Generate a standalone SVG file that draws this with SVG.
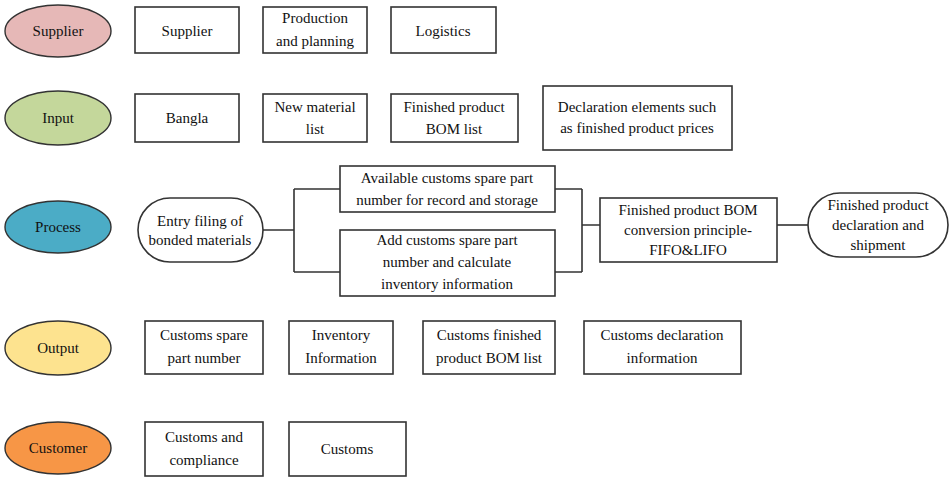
<svg xmlns="http://www.w3.org/2000/svg" width="951" height="477" viewBox="0 0 951 477" font-family="Liberation Serif, serif" font-size="15">
<style>
.b{fill:#fff;stroke:#333;stroke-width:1.6}
.e{stroke:#333;stroke-width:1.4}
.c{fill:none;stroke:#333;stroke-width:1.6}
.t{font-family:"Liberation Serif",serif;font-size:15px;fill:#111;text-anchor:middle}
</style>
<rect width="951" height="477" fill="#fff"/>
<g id="connectors">
<path class="c" d="M263,230H294M294,189V272M294,189H340M294,272H340"/>
<path class="c" d="M555,189H582M555,272H582M582,189V272M582,225H600"/>
<path class="c" d="M777,225H808"/>
</g>
<g class="t">
<g id="supplier-label"><ellipse class="e" cx="58" cy="31" rx="53" ry="26" fill="#e6b8b7"/><text x="58" y="36">Supplier</text></g>
<g id="input-label"><ellipse class="e" cx="58" cy="118" rx="53" ry="27" fill="#c4d79b"/><text x="58" y="123">Input</text></g>
<g id="process-label"><ellipse class="e" cx="58" cy="227" rx="53" ry="26" fill="#4bacc6"/><text x="58" y="232">Process</text></g>
<g id="output-label"><ellipse class="e" cx="58" cy="348" rx="53" ry="27" fill="#fde38f"/><text x="58" y="353">Output</text></g>
<g id="customer-label"><ellipse class="e" cx="58" cy="448" rx="53" ry="26" fill="#f79646"/><text x="58" y="453">Customer</text></g>

<g id="supplier-box"><rect class="b" x="135" y="7" width="104" height="46"/><text x="187" y="36">Supplier</text></g>
<g id="production-box"><rect class="b" x="263" y="7" width="104" height="46"/><text x="315" y="23">Production</text><text x="315" y="46">and planning</text></g>
<g id="logistics-box"><rect class="b" x="391" y="7" width="105" height="46"/><text x="443" y="36">Logistics</text></g>

<g id="bangla-box"><rect class="b" x="135" y="94" width="104" height="48"/><text x="187" y="123">Bangla</text></g>
<g id="material-box"><rect class="b" x="263" y="94" width="104" height="48"/><text x="315" y="112">New material</text><text x="315" y="134">list</text></g>
<g id="bom-box"><rect class="b" x="391" y="94" width="127" height="48"/><text x="454" y="112">Finished product</text><text x="454" y="134">BOM list</text></g>
<g id="declaration-box"><rect class="b" x="543" y="86" width="189" height="64"/><text x="637" y="112">Declaration elements such</text><text x="637" y="133">as finished product prices</text></g>

<g id="entry-node"><rect class="b" x="138" y="198" width="125" height="64" rx="32" ry="32"/><text x="200" y="226">Entry filing of</text><text x="200" y="245">bonded materials</text></g>
<g id="available-node"><rect class="b" x="340" y="166" width="215" height="46"/><text x="447" y="183">Available customs spare part</text><text x="447" y="205">number for record and storage</text></g>
<g id="add-node"><rect class="b" x="340" y="230" width="215" height="66"/><text x="447" y="245">Add customs spare part</text><text x="447" y="267">number and calculate</text><text x="447" y="289">inventory information</text></g>
<g id="conversion-node"><rect class="b" x="600" y="198" width="177" height="64"/><text x="688" y="215">Finished product BOM</text><text x="688" y="235">conversion principle-</text><text x="688" y="255">FIFO&amp;LIFO</text></g>
<g id="shipment-node"><rect class="b" x="808" y="193" width="140" height="64" rx="32" ry="32"/><text x="878" y="210">Finished product</text><text x="878" y="230">declaration and</text><text x="878" y="250">shipment</text></g>

<g id="spare-box"><rect class="b" x="145" y="321" width="118" height="53"/><text x="204" y="340">Customs spare</text><text x="204" y="363">part number</text></g>
<g id="inventory-box"><rect class="b" x="289" y="321" width="104" height="53"/><text x="341" y="340">Inventory</text><text x="341" y="363">Information</text></g>
<g id="customs-bom-box"><rect class="b" x="423" y="321" width="132" height="53"/><text x="489" y="340">Customs finished</text><text x="489" y="363">product BOM list</text></g>
<g id="customs-decl-box"><rect class="b" x="584" y="321" width="157" height="53"/><text x="662" y="340">Customs declaration</text><text x="662" y="363">information</text></g>

<g id="compliance-box"><rect class="b" x="145" y="422" width="118" height="54"/><text x="204" y="442">Customs and</text><text x="204" y="465">compliance</text></g>
<g id="customs-box"><rect class="b" x="289" y="422" width="117" height="54"/><text x="347" y="454">Customs</text></g>
</g>
</svg>
